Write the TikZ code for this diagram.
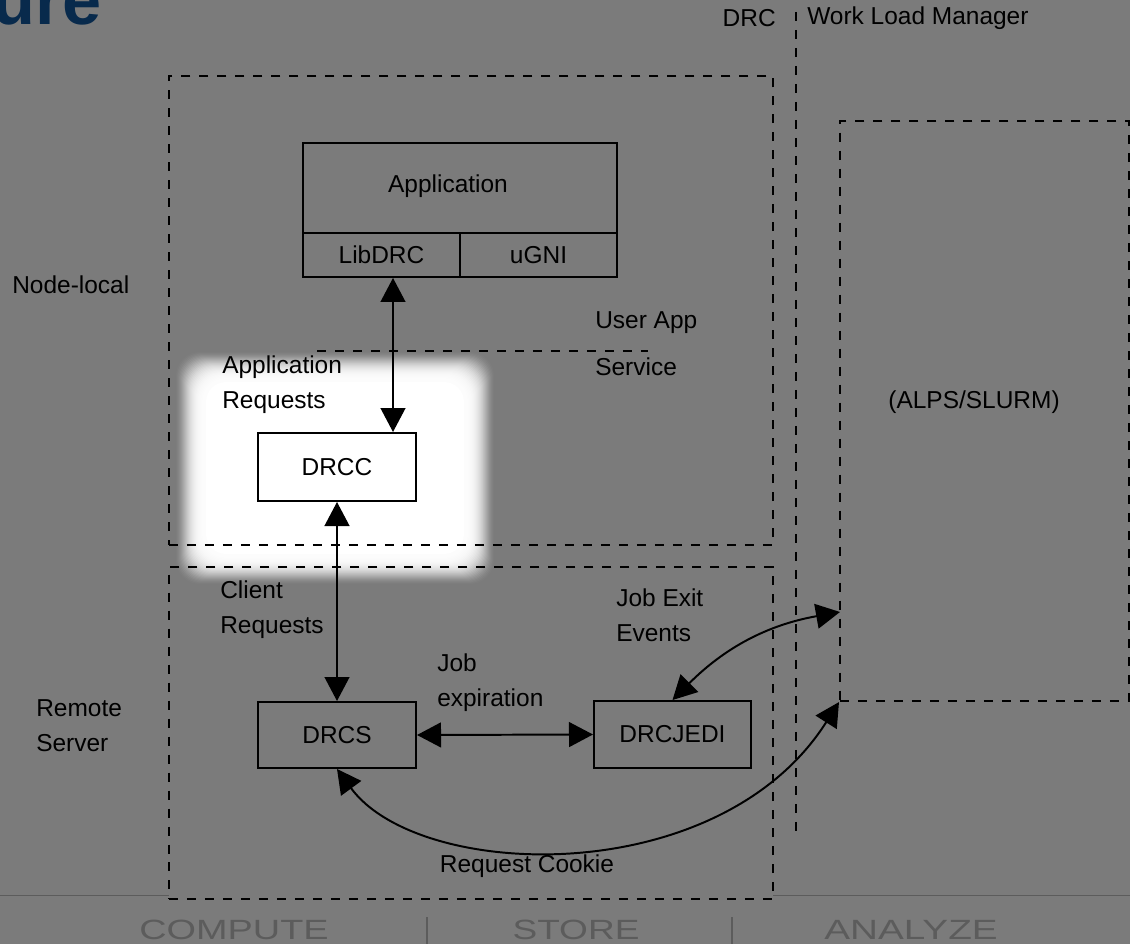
\documentclass[tikz,border=0pt]{standalone}
\usepackage{fontspec}
\setmainfont{Liberation Sans}
\usetikzlibrary{arrows.meta, calc}

\definecolor{slidegray}{RGB}{123,123,123}
\definecolor{titleblue}{RGB}{8,42,76}
\definecolor{footgray}{RGB}{92,92,92}

\begin{document}
\begin{tikzpicture}[
        x=0.025cm, y=-0.025cm,
        block/.style={rectangle, draw, line width=1.4pt, inner sep=0pt, font=\fontsize{17.4}{20}\selectfont},
        region/.style={rectangle, draw, line width=1.4pt, dash pattern=on 6.4pt off 6.4pt, inner sep=0pt},
        divider/.style={line width=1.4pt, dash pattern=on 6.4pt off 6.4pt},
        note/.style={font=\fontsize{17.4}{24.8}\selectfont, align=left, inner sep=0pt},
        link/.style={{Triangle[length=0.6cm, width=0.62cm]}-{Triangle[length=0.6cm, width=0.62cm]}, line width=1.4pt},
        footer/.style={font=\fontsize{19.8}{20}\selectfont, text=footgray, inner sep=0pt}
    ]

    \useasboundingbox (0,0) rectangle (1130,944);
    \clip (0,0) rectangle (1130,944);
    \fill[slidegray] (0,0) rectangle (1130,944);

    % Slide title, cut at the page edge
    \node[anchor=base east, inner sep=0pt, text=titleblue, font=\fontsize{50}{50}\selectfont\bfseries] (title) at (102,25) {ure};

    % --- Footer rule and menu ---
    \draw[footgray, line width=1.2pt] (0,895.5) -- (169,895.5) (773,895.5) -- (1130,895.5);
    \node[footer] (compute) at (234,930) {\scalebox{1.36}[1]{COMPUTE}};
    \node[footer] (store) at (576,930) {\scalebox{1.33}[1]{STORE}};
    \node[footer] (analyze) at (911,930) {\scalebox{1.39}[1]{ANALYZE}};
    \draw[footgray, line width=0.8pt] (427,917) -- (427,944) (732,917) -- (732,944);

    % --- White glow behind the client (soft edge, ramped opacity) ---
    \foreach \i in {0,...,29}
        \fill[white, opacity=0.02+0.01*\i, rounded corners=0.6cm] (176+\i,352+\i) rectangle (494-\i,584-\i);
    \fill[white, rounded corners=0.5cm] (206,382) rectangle (464,554);

    % --- Regions ---
    \node[region, minimum width=15.1cm, minimum height=11.725cm] (nodelocal) at (471,310.5) {};
    \node[region, minimum width=15.1cm, minimum height=8.3cm] (remote) at (471,733) {};
    \node[region, minimum width=7.225cm, minimum height=14.5cm] (wlm) at (984.5,411) {};
    \draw[divider] (796,12) -- (796,833);
    \draw[divider] (317,351) -- (648,351);

    % --- Boxes ---
    \node[block, minimum width=7.85cm, minimum height=2.25cm] (app) at (460,188) {};
    \node[note] (apptext) at (448,186) {Application};
    \node[block, minimum width=3.925cm, minimum height=1.1cm] (libdrc) at (381.5,255) {LibDRC};
    \node[block, minimum width=3.925cm, minimum height=1.1cm] (ugni) at (538.5,255) {uGNI};
    \node[block, fill=white, minimum width=3.95cm, minimum height=1.7cm] (drcc) at (337,467) {DRCC};
    \node[block, minimum width=3.95cm, minimum height=1.65cm] (drcs) at (337,735) {DRCS};
    \node[block, minimum width=3.925cm, minimum height=1.675cm] (drcjedi) at (672.5,734.5) {DRCJEDI};

    % --- Labels ---
    \node[note, anchor=east] (drc) at (776,18) {DRC};
    \node[note, anchor=west] (wlmtitle) at (807,18) {Work Load Manager};
    \node[note, anchor=west] (nodelocaltext) at (12,285) {Node-local};
    \node[note, anchor=west] (remotetext) at (36,725.5) {Remote\\Server};
    \node[note, anchor=west] (appreq) at (222,385) {Application\\Requests};
    \node[note, anchor=west] (userapp) at (595,323) {User App};
    \node[note, anchor=west] (service) at (595,367) {Service};
    \node[note, anchor=west] (clientreq) at (220,610) {Client\\Requests};
    \node[note, anchor=west] (jobexit) at (616,615) {Job Exit\\Events};
    \node[note, anchor=west] (jobexp) at (437,682.5) {Job\\expiration};
    \node[note] (cookie) at (527,866) {Request Cookie};
    \node[note] (alps) at (974,402) {(ALPS/SLURM)};

    % --- Connectors ---
    \coordinate (wlmin) at (840,612);
    \draw[link] ($(libdrc.south)+(11.5,0)$) -- ($(drcc.north)+(56,0)$);
    \draw[link] (drcc.south) -- (drcs.north);
    \draw[link] (drcs.east) -- (drcjedi.west);
    \draw[link] (drcjedi.north) .. controls +(52,-52) and +(-73,13) .. (wlmin);
    \draw[link] (drcs.south) .. controls +(82,112) and +(-120,189) .. (wlm.south west);

\end{tikzpicture}
\end{document}
